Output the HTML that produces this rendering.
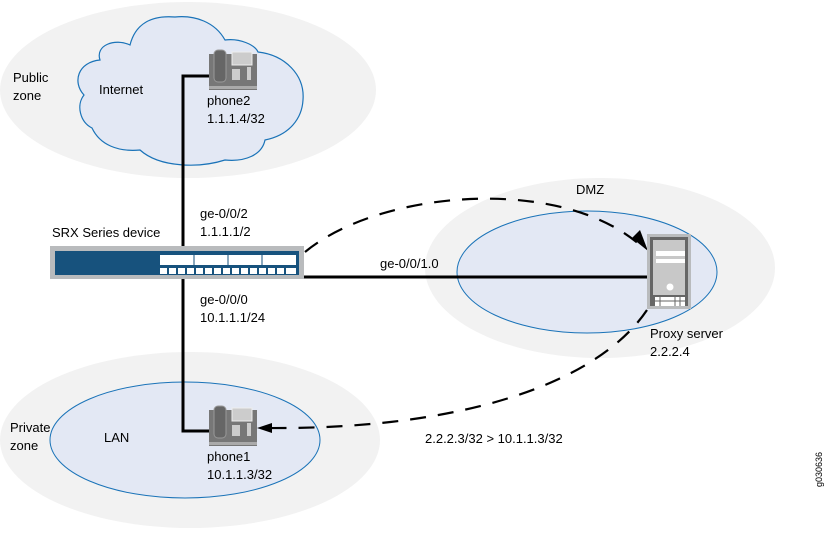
<!DOCTYPE html>
<html><head><style>
html,body{margin:0;padding:0;background:#fff;}
svg text{font-family:"Liberation Sans",sans-serif;font-size:13px;fill:#000;}
</style></head><body>
<svg width="827" height="528" viewBox="0 0 827 528" xmlns="http://www.w3.org/2000/svg">
<!-- zones -->
<ellipse cx="188" cy="90" rx="188" ry="88" fill="#f2f2f2"/>
<ellipse cx="600" cy="268" rx="175" ry="90" fill="#f2f2f2"/>
<ellipse cx="190" cy="440" rx="190" ry="88" fill="#f2f2f2"/>
<!-- cloud -->
<path d="M100,60 C95,45 115,38 130,45 C135,25 150,15 175,17 C195,15 215,22 225,40 C240,38 255,45 258,52 C285,55 305,75 303,100 C302,118 290,135 265,140 C262,155 245,162 225,160 C200,168 160,168 140,150 C118,152 100,145 92,128 C80,122 76,105 84,95 C72,82 78,62 100,60 Z" fill="#e3e8f4" stroke="#1a73b8" stroke-width="1.2"/>
<!-- DMZ / LAN ellipses -->
<ellipse cx="587" cy="272" rx="130" ry="61" fill="#e3e8f4" stroke="#1a73b8" stroke-width="1"/>
<ellipse cx="185" cy="440" rx="135" ry="58" fill="#e3e8f4" stroke="#1a73b8" stroke-width="1"/>
<!-- solid links -->
<polyline points="210,76 183,76 183,247" fill="none" stroke="#000" stroke-width="3"/>
<polyline points="183,279 183,431 210,431" fill="none" stroke="#000" stroke-width="3"/>
<line x1="304" y1="277" x2="648" y2="277" stroke="#000" stroke-width="3"/>
<!-- dashed -->
<path d="M305,252 C380,190 560,175 640,245" fill="none" stroke="#000" stroke-width="2.2" stroke-dasharray="16,12"/>
<polygon points="648,251 632,238 640,230" fill="#000"/>
<path d="M647,310 C600,380 470,430 265,428" fill="none" stroke="#000" stroke-width="2.2" stroke-dasharray="16,12"/>
<polygon points="257,428 272,423 272,433" fill="#000"/>
<!-- switch -->
<rect x="50" y="246" width="254" height="33" fill="#b9bbbd"/>
<rect x="55" y="251" width="244" height="24" fill="#17527d"/>
<rect x="160" y="255" width="136" height="10" fill="#fff"/>
<g stroke="#17527d" stroke-width="1"><line x1="194" y1="255" x2="194" y2="265"/><line x1="228" y1="255" x2="228" y2="265"/><line x1="262" y1="255" x2="262" y2="265"/></g>
<g fill="#fff">
<rect x="160" y="268" width="7" height="6"/><rect x="169" y="268" width="7" height="6"/><rect x="178" y="268" width="7" height="6"/><rect x="187" y="268" width="7" height="6"/><rect x="196" y="268" width="7" height="6"/><rect x="205" y="268" width="7" height="6"/><rect x="214" y="268" width="7" height="6"/><rect x="223" y="268" width="7" height="6"/><rect x="232" y="268" width="7" height="6"/><rect x="241" y="268" width="7" height="6"/><rect x="250" y="268" width="7" height="6"/><rect x="259" y="268" width="7" height="6"/><rect x="268" y="268" width="7" height="6"/><rect x="277" y="268" width="7" height="6"/><rect x="286" y="268" width="10" height="6"/>
</g>
<!-- phones -->
<g id="ph">
<rect x="209" y="54" width="48" height="36" fill="#777"/>
<rect x="209" y="86" width="48" height="3" fill="#aaa"/>
<rect x="214" y="50" width="12" height="32" rx="4" fill="#666" stroke="#999"/>
<rect x="232" y="52" width="20" height="13" fill="#ccc" stroke="#eee"/>
<rect x="232" y="69" width="8" height="11" fill="#ccc"/><rect x="247" y="67" width="4" height="13" fill="#ccc"/>
</g>
<use href="#ph" transform="translate(0,356)"/>
<!-- server -->
<rect x="647" y="234" width="44" height="75" fill="#b9bbbd"/>
<rect x="650" y="237" width="38" height="69" fill="#666"/>
<rect x="653" y="240" width="32" height="55" fill="#c8c8c8"/>
<rect x="656" y="251" width="29" height="5" fill="#fff"/><rect x="656" y="259" width="29" height="4" fill="#fff"/>
<circle cx="670" cy="287" r="3.5" fill="#fff"/>
<rect x="655" y="297" width="30" height="9" fill="#fff"/>
<g stroke="#666"><line x1="655" y1="301" x2="685" y2="301"/><line x1="660" y1="297" x2="660" y2="306"/><line x1="675" y1="297" x2="675" y2="306"/><line x1="680" y1="297" x2="680" y2="306"/></g>
<!-- labels -->
<text x="13" y="82">Public</text><text x="13" y="100">zone</text>
<text x="99" y="94">Internet</text>
<text x="207" y="105">phone2</text><text x="207" y="123">1.1.1.4/32</text>
<text x="200" y="218">ge-0/0/2</text><text x="200" y="236">1.1.1.1/2</text>
<text x="52" y="237">SRX Series device</text>
<text x="200" y="304">ge-0/0/0</text><text x="200" y="322">10.1.1.1/24</text>
<text x="576" y="194">DMZ</text>
<text x="380" y="268">ge-0/0/1.0</text>
<text x="650" y="338">Proxy server</text><text x="650" y="356">2.2.2.4</text>
<text x="10" y="432">Private</text><text x="10" y="450">zone</text>
<text x="104" y="442">LAN</text>
<text x="207" y="461">phone1</text><text x="207" y="479">10.1.1.3/32</text>
<text x="425" y="443">2.2.2.3/32 &gt; 10.1.1.3/32</text>
<text transform="translate(822,487) rotate(-90)" style="font-size:9px">g030636</text>
</svg>
</body></html>
